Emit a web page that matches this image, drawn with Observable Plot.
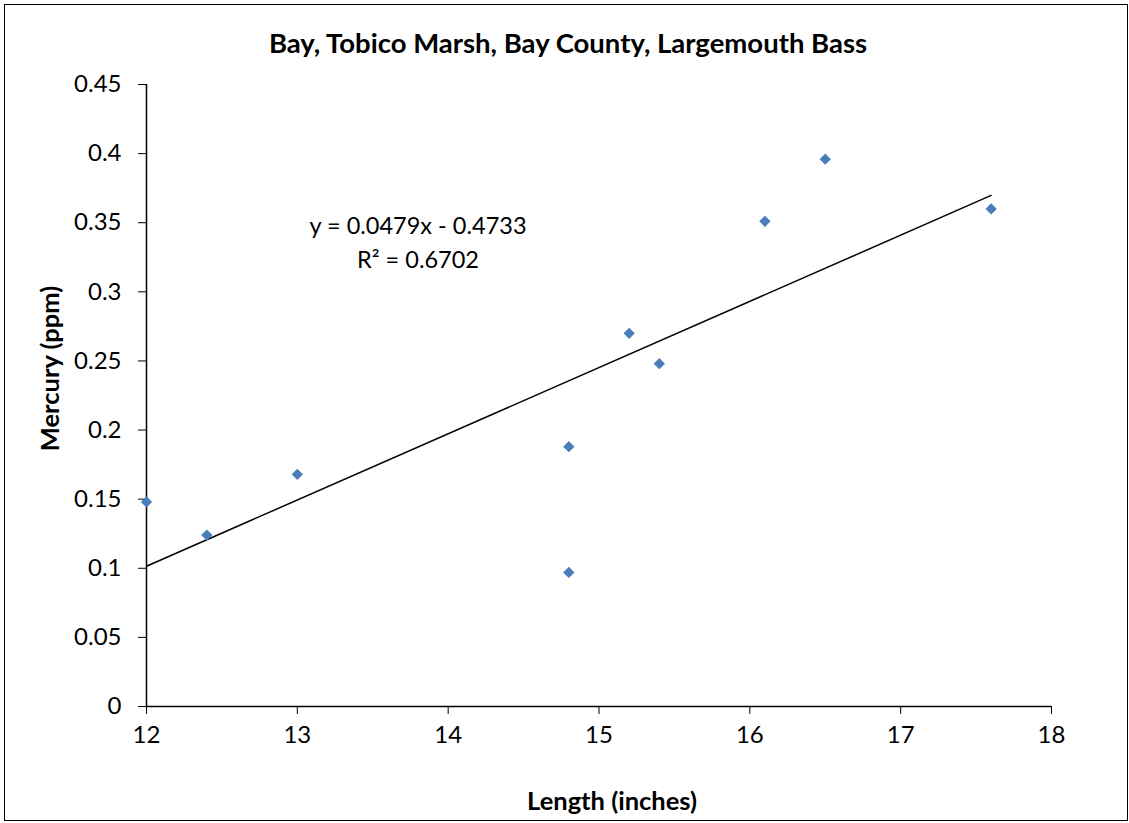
<!DOCTYPE html>
<html>
<head>
<meta charset="utf-8">
<script src="https://cdn.jsdelivr.net/npm/d3@7"></script>
<script src="https://cdn.jsdelivr.net/npm/@observablehq/plot@0.6"></script>
<style>
  html, body { margin: 0; padding: 0; background: #fff; }
  #wrap { position: relative; width: 1129px; height: 823px; overflow: hidden; }
  #border { position: absolute; left: 4px; top: 4px; width: 1122px; height: 815px; border: 1.5px solid #000; pointer-events: none; }
  #wrap svg { position: absolute; left: 0; top: 0; }
</style>
</head>
<body>
<div id="wrap"><div id="border"></div></div>
<script>
const lengths = [12, 12.4, 13, 14.8, 14.8, 15.2, 15.4, 16.1, 16.5, 17.6];
const mercury = [0.148, 0.124, 0.168, 0.188, 0.097, 0.27, 0.248, 0.351, 0.396, 0.36];
const xTicks = [12, 13, 14, 15, 16, 17, 18];
const yTicks = [0, 0.05, 0.1, 0.15, 0.2, 0.25, 0.3, 0.35, 0.4, 0.45];
const slope = 0.0479, intercept = -0.4733;
const trendX = [12, 17.6];
const eqLines = ["y = 0.0479x - 0.4733", "R² = 0.6702"];
const eqX = [13.8, 13.8];
const eqY = [0.3473, 0.3227];
const title = "Bay, Tobico Marsh, Bay County, Largemouth Bass";
const xLabel = "Length (inches)";
const yLabel = "Mercury (ppm)";

const pts = lengths.map((x, i) => ({x, y: mercury[i]}));
const trend = trendX.map(x => ({x, y: slope * x + intercept}));
const eq = eqLines.map((t, i) => ({t, x: eqX[i], y: eqY[i]}));
const font = "Lato, 'Open Sans', sans-serif";

const chart = Plot.plot({
  width: 1129,
  height: 823,
  marginLeft: 146,
  marginRight: 78,
  marginTop: 84,
  marginBottom: 117,
  style: {fontFamily: font, fontSize: "24px", color: "#000", background: "transparent"},
  x: {domain: [12, 18], ticks: xTicks},
  y: {domain: [0, 0.45], ticks: yTicks},
  marks: [
    Plot.axisX({ticks: xTicks, tickSize: 8, tickPadding: 11, fontSize: 24, label: null, tickFormat: d => String(d)}),
    Plot.axisY({ticks: yTicks, tickSize: 8, tickPadding: 17, fontSize: 24, label: null, tickFormat: d => String(+d.toFixed(2))}),
    Plot.ruleY([0], {stroke: "#000", strokeWidth: 1.5}),
    Plot.ruleX([12], {stroke: "#000", strokeWidth: 1.5}),
    Plot.line(trend, {x: "x", y: "y", stroke: "#000", strokeWidth: 1.5}),
    Plot.dot(pts, {x: "x", y: "y", symbol: "diamond2", r: 5.1, fill: "#4a7ebb", stroke: "none"}),
    Plot.text(eq, {x: "x", y: "y", text: "t", fontSize: 23.5, fill: "#000", textAnchor: "middle", lineAnchor: "middle"}),
    Plot.text([title], {frameAnchor: "top", dy: -40, dx: -31, fontSize: 27.5, fontWeight: "bold", fill: "#000", lineAnchor: "middle"}),
    Plot.text([xLabel], {frameAnchor: "bottom", dy: 95, dx: 13, fontSize: 25.5, fontWeight: "bold", fill: "#000", lineAnchor: "middle"}),
    Plot.text([yLabel], {frameAnchor: "left", dx: -96, dy: -27, rotate: -90, textAnchor: "middle", fontSize: 25.5, fontWeight: "bold", fill: "#000", lineAnchor: "middle"})
  ]
});
document.getElementById("wrap").prepend(chart);
</script>
</body>
</html>
